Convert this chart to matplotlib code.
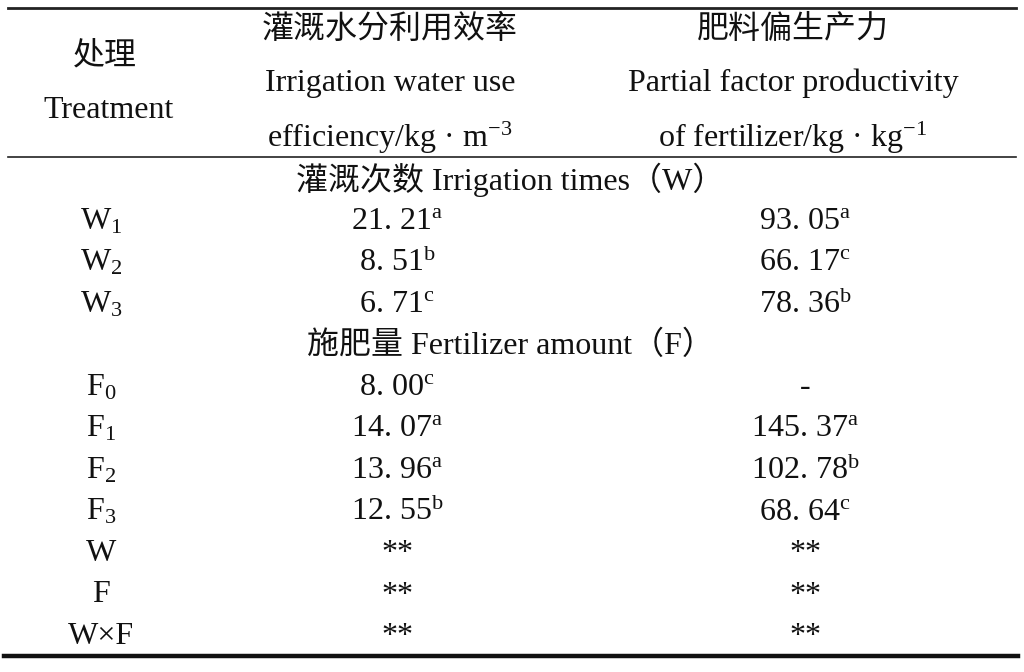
import matplotlib
matplotlib.use('Agg')
import matplotlib.pyplot as plt

plt.rcParams['font.family'] = ['Liberation Serif', 'Noto Sans CJK SC', 'DejaVu Sans']
plt.rcParams['mathtext.fontset'] = 'custom'
plt.rcParams['mathtext.rm'] = 'Liberation Serif'
plt.rcParams['mathtext.it'] = 'Liberation Serif:italic'

# table content
header_treat = ['处理', 'Treatment']
header_iwue = ['灌溉水分利用效率', 'Irrigation water use', r'efficiency/kg · m$^{-3}$']
header_pfp = ['肥料偏生产力', 'Partial factor productivity', r'of fertilizer/kg · kg$^{-1}$']

group_w = '灌溉次数 Irrigation times（W）'
group_f = '施肥量 Fertilizer amount（F）'

treat_w = ['W$_1$', 'W$_2$', 'W$_3$']
iwue_w = ['21. 21', '8. 51', '6. 71']
iwue_w_sig = ['a', 'b', 'c']
pfp_w = ['93. 05', '66. 17', '78. 36']
pfp_w_sig = ['a', 'c', 'b']

treat_f = ['F$_0$', 'F$_1$', 'F$_2$', 'F$_3$']
iwue_f = ['8. 00', '14. 07', '13. 96', '12. 55']
iwue_f_sig = ['c', 'a', 'a', 'b']
pfp_f = ['-', '145. 37', '102. 78', '68. 64']
pfp_f_sig = ['', 'a', 'b', 'c']

anova_rows = ['W', 'F', 'W×F']
anova_iwue = ['**', '**', '**']
anova_pfp = ['**', '**', '**']

fs = 23
col_x = [107, 397, 805]
row0 = 180
pitch = 41.5

fig = plt.figure(figsize=(10.24, 6.72), dpi=100)
ax = fig.add_axes([0, 0, 1, 1])
ax.set_xlim(0, 1024)
ax.set_ylim(672, 0)
ax.axis('off')


def put(x, y, s, size=fs):
    ax.text(x, y, s, ha='center', va='center', fontsize=size, color='#111111')


def val(v, sig):
    return v + (r'$^{\mathrm{%s}}$' % sig if sig else '')


# rules
ax.plot([8, 1016], [8, 8], color='#222222', lw=2.0)
ax.plot([8, 1016], [157, 157], color='#222222', lw=1.2)
ax.plot([4, 1018], [656, 656], color='#111111', lw=3.2)

# header
put(col_x[0] - 2, 57, header_treat[0])
put(col_x[0] + 2, 111, header_treat[1])
for i, y in enumerate([30, 83, 138]):
    put(390, y, header_iwue[i])
    put(793, y, header_pfp[i])

rows = []
rows.append(('group', group_w))
for t, a, sa, b, sb in zip(treat_w, iwue_w, iwue_w_sig, pfp_w, pfp_w_sig):
    rows.append(('data', t, val(a, sa), val(b, sb)))
rows.append(('group', group_f))
for t, a, sa, b, sb in zip(treat_f, iwue_f, iwue_f_sig, pfp_f, pfp_f_sig):
    rows.append(('data', t, val(a, sa), val(b, sb)))
for t, a, b in zip(anova_rows, anova_iwue, anova_pfp):
    rows.append(('data', t, a, b))

for i, r in enumerate(rows):
    y = row0 + pitch * i
    if r[0] == 'group':
        put(510, y, r[1])
    else:
        put(col_x[0] - 6, y, r[1])
        put(col_x[1], y, r[2])
        put(col_x[2], y, r[3])

fig.savefig('out.png', dpi=100, facecolor='white')
